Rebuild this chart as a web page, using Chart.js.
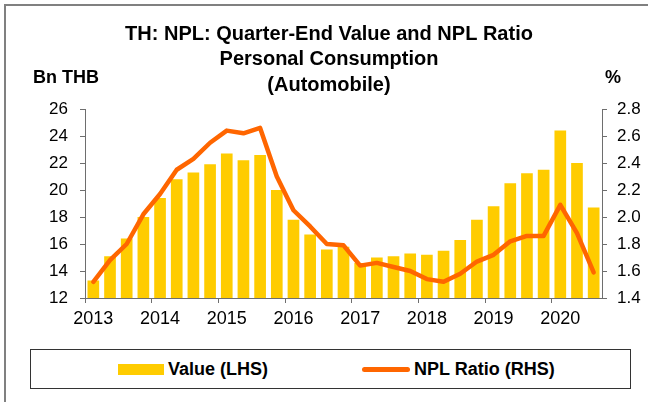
<!DOCTYPE html>
<html>
<head>
<meta charset="utf-8">
<script src="https://cdn.jsdelivr.net/npm/chart.js@4/dist/chart.umd.min.js"></script>
<style>
  body { margin: 0; background: #fff; }
  #wrap { position: relative; width: 648px; height: 402px; overflow: hidden;
          font-family: "Liberation Sans", Arial, sans-serif; }
  #frame { position: absolute; left: 4px; top: 4px; width: 700px; height: 500px;
           border: 2px solid #808080; box-sizing: border-box; }
  #chart { position: absolute; left: 0; top: 0; }
  .unit { position: absolute; font-weight: bold; font-size: 18px; color: #000; }
  #legend { position: absolute; left: 30px; top: 349px; width: 601px; height: 40px;
            border: 1px solid #333; box-sizing: border-box; background: #fff; }
  .item { position: absolute; top: 0; height: 38px; display: flex; align-items: center;
          font-weight: bold; font-size: 18px; color: #000; white-space: nowrap; }
  .swatch { display: inline-block; margin-right: 4px; }
</style>
</head>
<body>
<div id="wrap">
  <div id="frame"></div>
  <canvas id="chart" width="648" height="402"></canvas>
  <div class="unit" style="left:33px; top:67px;">Bn THB</div>
  <div class="unit" style="left:605px; top:67px;">%</div>
  <div id="legend"></div>
</div>
<script>
// --- Data ---
const quarterLabels = [
  '2013 Q1','2013 Q2','2013 Q3','2013 Q4',
  '2014 Q1','2014 Q2','2014 Q3','2014 Q4',
  '2015 Q1','2015 Q2','2015 Q3','2015 Q4',
  '2016 Q1','2016 Q2','2016 Q3','2016 Q4',
  '2017 Q1','2017 Q2','2017 Q3','2017 Q4',
  '2018 Q1','2018 Q2','2018 Q3','2018 Q4',
  '2019 Q1','2019 Q2','2019 Q3','2019 Q4',
  '2020 Q1','2020 Q2','2020 Q3'
];
const yearTicks = ['2013','2014','2015','2016','2017','2018','2019','2020'];

// NPL value, Bn THB (LHS)
const valueBn = [
  13.3, 15.1, 16.4, 18.0,
  19.4, 20.8, 21.3, 21.9,
  22.7, 22.2, 22.6, 20.0,
  17.8, 16.7, 15.6, 15.8,
  14.6, 15.0, 15.1, 15.3,
  15.2, 15.5, 16.3, 17.8,
  18.8, 20.5, 21.25, 21.5,
  24.4, 22.0, 18.7
];
// NPL ratio, % (RHS)
const nplRatio = [
  1.52, 1.68, 1.80, 2.02,
  2.17, 2.35, 2.43, 2.55,
  2.64, 2.62, 2.66, 2.30,
  2.05, 1.93, 1.80, 1.79,
  1.64, 1.66, 1.63, 1.60,
  1.54, 1.52, 1.58, 1.67,
  1.72, 1.82, 1.86, 1.86,
  2.09, 1.88, 1.59
];

const titleLines = [
  'TH: NPL: Quarter-End Value and NPL Ratio',
  'Personal Consumption',
  '(Automobile)'
];

const BAR_COLOR = '#FFCC00';
const LINE_COLOR = '#FF6600';
const AXIS_COLOR = '#6e6e6e';
const FONT = '"Liberation Sans", Arial, sans-serif';

Chart.defaults.font.family = FONT;
Chart.defaults.color = '#000';

const chart = new Chart(document.getElementById('chart'), {
  data: {
    labels: quarterLabels,
    datasets: [
      {
        type: 'bar',
        label: 'Value (LHS)',
        data: valueBn,
        backgroundColor: BAR_COLOR,
        yAxisID: 'y',
        barPercentage: 0.7,
        categoryPercentage: 1.0,
        order: 2
      },
      {
        type: 'line',
        label: 'NPL Ratio (RHS)',
        data: nplRatio,
        borderColor: LINE_COLOR,
        backgroundColor: LINE_COLOR,
        borderWidth: 4.5,
        borderJoinStyle: 'round',
        borderCapStyle: 'round',
        pointRadius: 0,
        tension: 0,
        yAxisID: 'y1',
        order: 1
      }
    ]
  },
  options: {
    responsive: false,
    animation: false,
    layout: { padding: { top: 0, left: 10, right: 0, bottom: 74 } },
    plugins: {
      legend: { display: false },
      tooltip: { enabled: false },
      title: {
        display: true,
        text: titleLines,
        font: { size: 20, weight: 'bold', lineHeight: 1.275 },
        padding: { top: 21.5, bottom: 11 }
      }
    },
    scales: {
      x: {
        offset: true,
        grid: {
          offset: true,
          drawOnChartArea: false,
          tickLength: 5,
          color: ctx => (ctx.index !== undefined && ctx.index % 4 === 0) ? AXIS_COLOR : 'rgba(0,0,0,0)'
        },
        border: { display: true, color: AXIS_COLOR, width: 1 },
        ticks: {
          autoSkip: false,
          maxRotation: 0,
          padding: 5,
          font: { size: 18 },
          callback: (v, i) => (i % 4 === 0 ? yearTicks[i / 4] : '')
        },
        afterFit: s => { s.height = 30; }
      },
      y: {
        position: 'left',
        min: 12,
        max: 26,
        ticks: { stepSize: 2, padding: 12, font: { size: 17 } },
        grid: { drawOnChartArea: false, tickLength: 5, color: AXIS_COLOR },
        border: { display: true, color: AXIS_COLOR, width: 1 },
        afterFit: s => { s.width = 75; }
      },
      y1: {
        position: 'right',
        min: 1.4,
        max: 2.8,
        ticks: { stepSize: 0.2, padding: 10, font: { size: 17 }, callback: v => v.toFixed(1) },
        grid: { drawOnChartArea: false, tickLength: 5, color: AXIS_COLOR },
        border: { display: true, color: AXIS_COLOR, width: 1 },
        afterFit: s => { s.width = 46; }
      }
    }
  }
});

// --- Legend HTML dari dataset chart ---
const legendBox = document.getElementById('legend');
const legendLeft = [87, 331];
chart.data.datasets.forEach((ds, i) => {
  const item = document.createElement('div');
  item.className = 'item';
  item.style.left = legendLeft[i] + 'px';
  const sw = document.createElement('span');
  sw.className = 'swatch';
  if (ds.type === 'bar') {
    sw.style.cssText += `width:46px;height:11px;background:${ds.backgroundColor};`;
  } else {
    sw.style.cssText += `width:48px;height:5px;border-radius:3px;background:${ds.borderColor};`;
  }
  item.appendChild(sw);
  item.appendChild(document.createTextNode(ds.label));
  legendBox.appendChild(item);
});
</script>
</body>
</html>
